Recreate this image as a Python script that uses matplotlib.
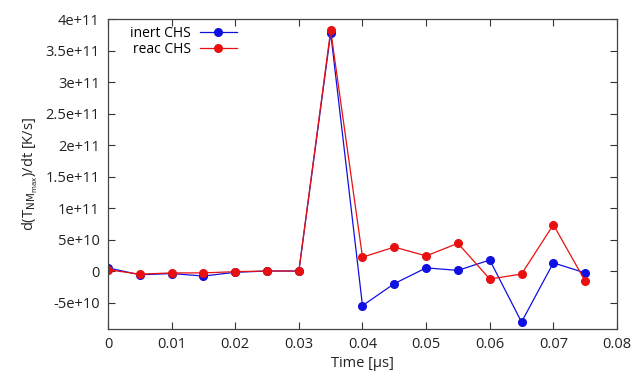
import numpy as np
import matplotlib.pyplot as plt

plt.rcParams['font.family'] = ['Open Sans', 'DejaVu Sans']

time = [0, 0.005, 0.01, 0.015, 0.02, 0.025, 0.03, 0.035,
        0.04, 0.045, 0.05, 0.055, 0.06, 0.065, 0.07, 0.075]
inert = [5e9, -6e9, -4e9, -8e9, -2e9, 0, 0, 3.78e11,
         -5.5e10, -2e10, 5e9, 1e9, 1.75e10, -8.1e10, 1.3e10, -3e9]
reac = [2e9, -5e9, -3e9, -3e9, -1e9, 0, 0, 3.82e11,
        2.2e10, 3.8e10, 2.4e10, 4.4e10, -1.27e10, -4.8e9, 7.35e10, -1.6e10]

xticks = [0, 0.01, 0.02, 0.03, 0.04, 0.05, 0.06, 0.07, 0.08]
xlabels = ['0', '0.01', '0.02', '0.03', '0.04', '0.05', '0.06', '0.07', '0.08']
yticks = [-5e10, 0, 5e10, 1e11, 1.5e11, 2e11, 2.5e11, 3e11, 3.5e11, 4e11]
ylabels = ['-5e+10', '0', '5e+10', '1e+11', '1.5e+11', '2e+11',
           '2.5e+11', '3e+11', '3.5e+11', '4e+11']

fig = plt.figure(figsize=(6.33, 3.75), dpi=100)
ax = fig.add_axes([0.1706, 0.1227, 0.8041, 0.8266])

ax.plot(time, inert, '-o', color='#1010e0', lw=0.9, ms=5.5, label='inert CHS')
ax.plot(time, reac, '-o', color='#e81010', lw=0.9, ms=5.5, label='reac CHS')

ax.set_xlim(0, 0.08)
ax.set_ylim(-9.2e10, 4e11)
ax.set_xticks(xticks)
ax.set_xticklabels(xlabels)
ax.set_yticks(yticks)
ax.set_yticklabels(ylabels)
ax.tick_params(direction='in', top=True, right=True, length=5, width=0.8,
               labelsize=10.5, colors='#333333', labelcolor='#222222', pad=6)
for s in ax.spines.values():
    s.set_color('#444444')
    s.set_linewidth(0.9)

ax.set_xlabel('Time [µs]', fontsize=10.5, color='#222222', labelpad=3)
ax.set_ylabel(r'd(T$_{\mathrm{NM}_{\mathrm{max}}}$)/dt [K/s]', fontsize=10.5,
              color='#222222', labelpad=4)

ax.legend(loc='upper left', bbox_to_anchor=(0.025, 1.01), frameon=False,
          markerfirst=False, fontsize=10, handlelength=2.7,
          handletextpad=0.6, labelspacing=0.1, borderaxespad=0.3)

fig.savefig('out.png', dpi=100)
